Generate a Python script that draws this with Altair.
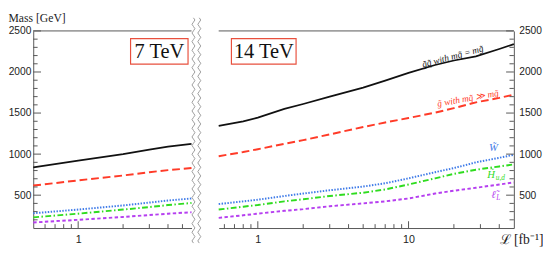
import altair as alt
import pandas as pd

# ---------------- data ----------------
lumi_7 = [0.5, 1, 2, 3, 4, 5.75]
gluino_squark_7 = [840, 920, 1000, 1055, 1090, 1125]
gluino_7 = [617, 680, 740, 780, 805, 830]
wino_7 = [280, 325, 375, 410, 435, 460]
higgsino_7 = [230, 275, 325, 355, 380, 405]
slepton_7 = [168, 200, 235, 258, 275, 292]

lumi_14 = [0.55, 0.8, 1, 1.5, 2, 3, 5, 7, 10, 15, 20, 28, 40, 50]
gluino_squark_14 = [1345, 1400, 1445, 1550, 1610, 1700, 1810, 1895, 1990, 2085, 2140, 2190, 2280, 2340]
gluino_14 = [975, 1025, 1060, 1125, 1170, 1240, 1330, 1385, 1440, 1505, 1560, 1630, 1685, 1725]
wino_14 = [392, 425, 445, 490, 520, 560, 605, 645, 705, 780, 830, 900, 955, 992]
higgsino_14 = [325, 360, 380, 425, 450, 490, 530, 570, 630, 705, 760, 810, 850, 875]
slepton_14 = [224, 255, 275, 310, 330, 365, 400, 425, 460, 520, 555, 590, 630, 655]

series_keys = ["gq", "g", "W", "H", "l"]

y_major_ticks = [500, 1000, 1500, 2000, 2500]
y_minor_ticks = [200, 300, 400, 600, 700, 800, 900, 1100, 1200, 1300, 1400,
                 1600, 1700, 1800, 1900, 2100, 2200, 2300, 2400]
x7_major_ticks = [1]
x7_minor_ticks = [0.6, 0.7, 0.8, 0.9, 2, 3, 4, 5]
x14_major_ticks = [1, 10]
x14_minor_ticks = [0.6, 0.7, 0.8, 0.9, 2, 3, 4, 5, 6, 7, 8, 9, 20, 30, 40]

energy_labels = ["7 TeV", "14 TeV"]
y_title = "Mass [GeV]"
x_title = "ℒ [fb⁻¹]"

# annotation anchors (data coordinates)
box_7 = {"x0": 2.245, "x1": 5.45, "m0": 2096, "m1": 2407, "tx": 3.5, "ty": 2253}
box_14 = {"x0": 0.668, "x1": 1.794, "m0": 2096, "m1": 2407, "tx": 1.096, "ty": 2253}

# ---------------- styles ----------------
SANS = "Liberation Sans"
SERIF = "Liberation Serif"
AXC = "#555555"
BOXC = "#e8503e"
STYLE = {
    "gq": {"color": "#111111", "width": 1.8},
    "g": {"color": "#ff3b28", "width": 2, "dash": [8, 4]},
    "W": {"color": "#3f7be8", "width": 2, "dash": [1.5, 1.5]},
    "H": {"color": "#2fdc1f", "width": 2, "dash": [6, 2.5, 1.5, 2.5]},
    "l": {"color": "#b63ff0", "width": 2, "dash": [3.5, 2.5]},
}

H = 203
W7 = 163
W14 = 304
HALF_WAVE = 116

# wavy axis-break glyph (pure decoration)
n_half = 52
step = 2.0 / n_half
amp = 3.0 / HALF_WAVE
wave = "M0,-1"
for i in range(n_half):
    y0 = -1 + i * step
    cx = amp if i % 2 == 0 else -amp
    wave += f" Q{cx:.4f},{y0 + step / 2:.4f} 0,{y0 + step:.4f}"

one = pd.DataFrame({"a": [0]})


def make_panel(lumi, vals, xdom, width, side, xmaj, xmin, box, elabel, extra):
    xs = alt.Scale(type="log", domain=xdom, nice=False)
    ys = alt.Scale(domain=[100, 2500], nice=False, zero=False)
    xax = dict(values=xmaj, format="d", grid=False, ticks=False, tickSize=0,
               domainColor=AXC, domainWidth=1, labelFont=SANS, labelFontSize=11,
               labelColor="#222", labelPadding=6, labelFlush=False)
    if side == "left":
        xax["title"] = None
    else:
        xax.update(title=x_title, titleFont=SERIF, titleFontSize=14,
                   titleFontWeight="normal", titleColor="#222",
                   titleAlign="right", titleBaseline="alphabetic",
                   titleX=width + 30, titleY=16, titleAnchor="end")
    yax = dict(values=y_major_ticks, format="d", grid=False, ticks=False, tickSize=0,
               domainColor=AXC, domainWidth=1, labelFont=SANS, labelFontSize=10.5,
               labelColor="#222", orient=side, labelFlush=False)
    if side == "left":
        yax.update(labelPadding=2.5, title=y_title, titleAngle=0, titleFont=SERIF,
                   titleFontSize=12, titleFontWeight="normal", titleColor="#222",
                   titleAlign="left", titleBaseline="alphabetic",
                   titleX=-26, titleY=-10)
    else:
        yax.update(labelPadding=5, title=None)
    X = lambda f: alt.X(f"{f}:Q", scale=xs, axis=alt.Axis(**xax))
    Y = lambda f: alt.Y(f"{f}:Q", scale=ys, axis=alt.Axis(**yax))

    layers = []
    for key, v in zip(series_keys, vals):
        st = STYLE[key]
        kw = dict(color=st["color"], strokeWidth=st["width"])
        if "dash" in st:
            kw["strokeDash"] = st["dash"]
        df = pd.DataFrame({"lumi": lumi, "mass": v})
        layers.append(alt.Chart(df).mark_line(**kw).encode(x=X("lumi"), y=Y("mass")))

    # inward ticks
    if side == "left":
        xa_maj, xb_maj, xa_min, xb_min = 0, 8, 0, 4.5
    else:
        xa_maj, xb_maj, xa_min, xb_min = width - 8, width, width - 4.5, width
    layers.append(alt.Chart(pd.DataFrame({"mass": y_major_ticks})).mark_rule(color=AXC, strokeWidth=1)
                  .encode(y=Y("mass"), x=alt.value(xa_maj), x2=alt.value(xb_maj)))
    layers.append(alt.Chart(pd.DataFrame({"mass": y_minor_ticks})).mark_rule(color=AXC, strokeWidth=1)
                  .encode(y=Y("mass"), x=alt.value(xa_min), x2=alt.value(xb_min)))
    layers.append(alt.Chart(pd.DataFrame({"lumi": xmaj})).mark_rule(color=AXC, strokeWidth=1)
                  .encode(x=X("lumi"), y=alt.value(H), y2=alt.value(H - 7)))
    layers.append(alt.Chart(pd.DataFrame({"lumi": xmin})).mark_rule(color=AXC, strokeWidth=1)
                  .encode(x=X("lumi"), y=alt.value(H), y2=alt.value(H - 4)))
    # top frame line
    layers.append(alt.Chart(one).mark_rule(color=AXC, strokeWidth=1)
                  .encode(x=alt.value(0), x2=alt.value(width), y=alt.value(0)))

    # energy box
    bdf = pd.DataFrame([box])
    layers.append(alt.Chart(bdf).mark_rect(fill="white", stroke=BOXC, strokeWidth=1.2)
                  .encode(x=X("x0"), x2="x1:Q", y=Y("m0"), y2="m1:Q"))
    layers.append(alt.Chart(pd.DataFrame({"tx": [box["tx"]], "ty": [box["ty"]], "t": [elabel]}))
                  .mark_text(font=SERIF, fontSize=21, color="#111", baseline="middle", align="center", dy=1)
                  .encode(x=X("tx"), y=Y("ty"), text="t:N"))
    layers += extra(X, Y)

    if side == "left":
        for off in (2, 8):
            layers.append(alt.Chart(one).mark_point(shape=wave, size=(2 * HALF_WAVE) ** 2, filled=False,
                                                    color="#9a9a9a", strokeWidth=1, opacity=1)
                          .encode(x=alt.value(width + off), y=alt.value(H / 2 + 1)))
    return alt.layer(*layers).properties(width=width, height=H)


def no_extra(X, Y):
    return []


def labels_14(X, Y):
    out = []
    items = [
        ("g̃q̃ with mq̃ = mg̃", 19.66, 2189, STYLE["gq"]["color"], 345, "center", 9.5, 0, 0),
        ("g̃ with mq̃ ≫ mg̃", 24.8, 1678, STYLE["g"]["color"], 350, "center", 9.5, 0, 0),
        ("W̃", 36.6, 1068, STYLE["W"]["color"], 0, "center", 11, 0, 0),
        ("H̃", 37.4, 750, STYLE["H"]["color"], 0, "right", 11, 0, 0),
        ("u,d", 37.4, 750, STYLE["H"]["color"], 0, "left", 7.5, 1, 4),
        ("ℓ̃", 37.9, 507, STYLE["l"]["color"], 0, "right", 11, 0, 0),
        ("L", 37.9, 507, STYLE["l"]["color"], 0, "left", 7.5, 0.5, 4),
    ]
    for t, x, m, c, ang, al, fs, dx, dy in items:
        df = pd.DataFrame({"tx": [x], "ty": [m], "t": [t]})
        out.append(alt.Chart(df).mark_text(font=SERIF, fontStyle="italic", fontSize=fs, color=c,
                                           angle=ang, align=al, baseline="middle", dx=dx, dy=dy)
                   .encode(x=X("tx"), y=Y("ty"), text="t:N"))
    return out


left = make_panel(lumi_7, [gluino_squark_7, gluino_7, wino_7, higgsino_7, slepton_7],
                  [0.5, 5.75], W7, "left", x7_major_ticks, x7_minor_ticks, box_7,
                  energy_labels[0], no_extra)
right = make_panel(lumi_14, [gluino_squark_14, gluino_14, wino_14, higgsino_14, slepton_14],
                   [0.55, 50], W14, "right", x14_major_ticks, x14_minor_ticks, box_14,
                   energy_labels[1], labels_14)

chart = (alt.hconcat(left, right, spacing=12)
         .resolve_scale(x="independent", y="independent")
         .properties(padding={"left": 0, "top": 0, "right": 0, "bottom": 0}, background="white")
         .configure_view(stroke=None))

chart.save("out.html", embed_options={"renderer": "svg", "actions": False})
